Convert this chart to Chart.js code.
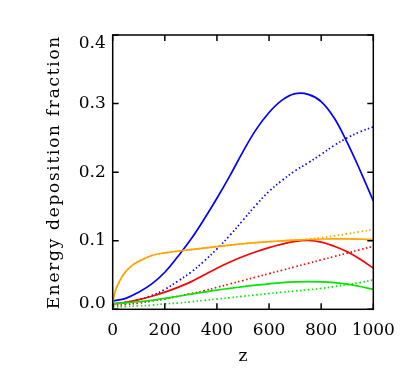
<!DOCTYPE html>
<html>
<head>
<meta charset="utf-8">
<title>Energy deposition fraction</title>
<script src="https://cdn.jsdelivr.net/npm/chart.js"></script>
<style>
    html, body { margin: 0; padding: 0; background: #fff; }
    canvas { display: block; }
</style>
</head>
<body>
<canvas id="edfChart" width="407" height="382"></canvas>
<script>
// z 网格（横轴）
const zValues = [0, 50, 100, 150, 200, 250, 300, 350, 400, 450, 500,
                 550, 600, 650, 700, 750, 800, 850, 900, 950, 1000];
// 橙色曲线在 z≈0 附近变化很快，单独用更密的网格
const zOrange = [0, 10, 20, 35, 50, 75, 100, 150, 200, 250, 300, 350, 400, 450, 500,
                 550, 600, 650, 700, 750, 800, 850, 900, 950, 1000];

// 各曲线数值
const blueSolid  = [0.012, 0.016, 0.025, 0.037, 0.054, 0.077, 0.102, 0.131, 0.162, 0.195, 0.230,
                    0.262, 0.287, 0.305, 0.3145, 0.3135, 0.303, 0.279, 0.243, 0.202, 0.158];
const blueDotted = [0.008, 0.010, 0.014, 0.020, 0.029, 0.041, 0.054, 0.070, 0.088, 0.108, 0.130,
                    0.152, 0.172, 0.188, 0.202, 0.2135, 0.226, 0.239, 0.250, 0.259, 0.266];
const redSolid   = [0.008, 0.010, 0.014, 0.019, 0.025, 0.032, 0.040, 0.050, 0.060, 0.069, 0.077,
                    0.084, 0.090, 0.095, 0.0990, 0.1003, 0.098, 0.092, 0.084, 0.073, 0.060];
const redDotted  = [0.005, 0.007, 0.009, 0.012, 0.015, 0.019, 0.023, 0.027, 0.032, 0.037, 0.042,
                    0.047, 0.052, 0.057, 0.062, 0.067, 0.072, 0.077, 0.082, 0.087, 0.092];
const greenSolid = [0.008, 0.0095, 0.011, 0.013, 0.016, 0.019, 0.022, 0.025, 0.028, 0.0305, 0.033,
                    0.0353, 0.0372, 0.0388, 0.0399, 0.0404, 0.0400, 0.0388, 0.0366, 0.0332, 0.029];
const greenDotted = [0.003, 0.004, 0.005, 0.006, 0.008, 0.009, 0.011, 0.013, 0.015, 0.017, 0.019,
                     0.021, 0.023, 0.025, 0.0267, 0.0285, 0.0305, 0.033, 0.036, 0.039, 0.043];
const orangeSolid  = [0.010, 0.027, 0.036, 0.047, 0.055, 0.064, 0.070, 0.0785, 0.0822, 0.0848, 0.0870,
                      0.0893, 0.0915, 0.0937, 0.0956, 0.0972, 0.0986, 0.0998, 0.1009, 0.1018, 0.1025,
                      0.1028, 0.1027, 0.1022, 0.1015];
const orangeDotted = [0.010, 0.027, 0.036, 0.047, 0.055, 0.064, 0.070, 0.0785, 0.0822, 0.0848, 0.0870,
                      0.0893, 0.0915, 0.0937, 0.0956, 0.0972, 0.0986, 0.0998, 0.1009, 0.1023, 0.1043,
                      0.1070, 0.1100, 0.1132, 0.1165];

// 坐标轴
const xTitle = 'z';
const yTitle = 'Energy deposition fraction';
const xRange = [0, 1000];
const yRange = [0, 0.4];
const xStep = 200;
const yStep = 0.1;

const FONT = { family: '"DejaVu Serif", serif', size: 17 };
const DOTS = [1.5, 2.5];

function toPoints(xs, ys) {
    return xs.map((x, i) => ({ x: x, y: ys[i] }));
}

function makeSet(label, xs, ys, color, dotted) {
    return {
        label: label,
        data: toPoints(xs, ys),
        borderColor: color,
        borderWidth: 1.7,
        borderDash: dotted ? DOTS : [],
        pointRadius: 0,
        tension: 0.4,
        fill: false
    };
}

// IDL 风格的边框、向内刻度、y 轴刻度标签和 y 轴标题
const framePlugin = {
    id: 'frame',
    afterDraw(chart) {
        const { ctx, chartArea: a, scales } = chart;
        const len = 6;
        ctx.save();
        ctx.strokeStyle = '#000';
        ctx.lineWidth = 1.5;
        ctx.strokeRect(a.left, a.top, a.right - a.left, a.bottom - a.top);
        ctx.beginPath();
        scales.x.ticks.forEach(t => {
            const px = scales.x.getPixelForValue(t.value);
            ctx.moveTo(px, a.bottom); ctx.lineTo(px, a.bottom - len);
            ctx.moveTo(px, a.top); ctx.lineTo(px, a.top + len);
        });
        scales.y.ticks.forEach(t => {
            const py = scales.y.getPixelForValue(t.value);
            ctx.moveTo(a.left, py); ctx.lineTo(a.left + len, py);
            ctx.moveTo(a.right, py); ctx.lineTo(a.right - len, py);
        });
        ctx.stroke();

        // y 轴标签：首尾两个往框内收一点
        ctx.fillStyle = '#000';
        ctx.font = FONT.size + 'px ' + FONT.family;
        ctx.textAlign = 'right';
        ctx.textBaseline = 'middle';
        scales.y.ticks.forEach(t => {
            let py = scales.y.getPixelForValue(t.value);
            py = Math.min(Math.max(py, a.top + 9), a.bottom - 6);
            ctx.fillText(t.value.toFixed(1), a.left - 7, py);
        });

        // y 轴标题，字距拉宽一点
        ctx.translate(55, (a.top + a.bottom) / 2);
        ctx.rotate(-Math.PI / 2);
        ctx.textAlign = 'center';
        ctx.letterSpacing = '1.7px';
        ctx.fillText(yTitle, 0, 0);
        ctx.restore();
    }
};

const ctx = document.getElementById('edfChart').getContext('2d');

window.edfChart = new Chart(ctx, {
    type: 'line',
    data: {
        datasets: [
            makeSet('orange dotted', zOrange, orangeDotted, '#ffa500', true),
            makeSet('orange', zOrange, orangeSolid, '#ffa500', false),
            makeSet('green dotted', zValues, greenDotted, 'rgb(0,230,0)', true),
            makeSet('green', zValues, greenSolid, 'rgb(0,230,0)', false),
            makeSet('red dotted', zValues, redDotted, '#ff0000', true),
            makeSet('red', zValues, redSolid, '#ff0000', false),
            makeSet('blue dotted', zValues, blueDotted, '#0000ff', true),
            makeSet('blue', zValues, blueSolid, '#0000ff', false)
        ]
    },
    options: {
        responsive: false,
        animation: false,
        layout: { padding: { left: 0, right: 33.7, top: 35, bottom: 0 } },
        plugins: {
            legend: { display: false },
            tooltip: { enabled: false }
        },
        scales: {
            x: {
                type: 'linear',
                min: xRange[0],
                max: xRange[1],
                grid: { display: false, drawTicks: false },
                border: { display: false },
                ticks: {
                    stepSize: xStep,
                    padding: 11,
                    color: '#000',
                    font: FONT,
                    maxRotation: 0,
                    callback: v => String(v)
                },
                title: {
                    display: true,
                    text: xTitle,
                    color: '#000',
                    font: FONT,
                    padding: { top: 0, bottom: 15 }
                },
                afterFit: s => { s.height = 72.7; }
            },
            y: {
                type: 'linear',
                min: yRange[0],
                max: yRange[1],
                grid: { display: false, drawTicks: false },
                border: { display: false },
                ticks: { stepSize: yStep, display: false },
                title: { display: false },
                afterFit: s => { s.width = 112.7; }
            }
        }
    },
    plugins: [framePlugin]
});
</script>
</body>
</html>
